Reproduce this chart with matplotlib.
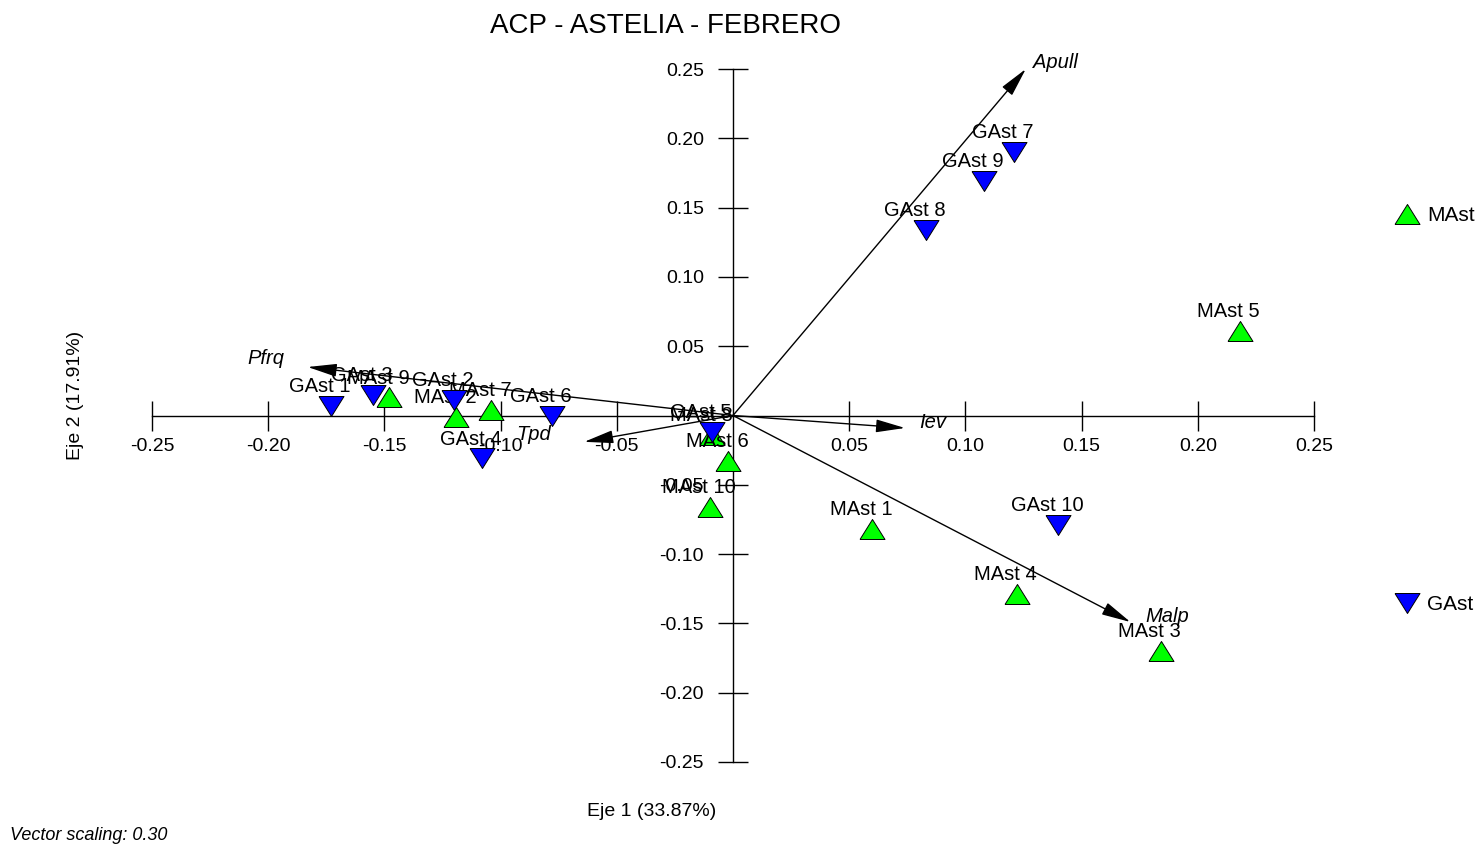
import numpy as np
import matplotlib.pyplot as plt
from matplotlib.lines import Line2D

plt.rcParams['font.family'] = ['Liberation Sans', 'DejaVu Sans']
plt.rcParams['axes.unicode_minus'] = False

# scores de las muestras (eje 1, eje 2)
mast_names = ['MAst 1', 'MAst 2', 'MAst 3', 'MAst 4', 'MAst 5',
              'MAst 6', 'MAst 7', 'MAst 8', 'MAst 9', 'MAst 10']
mast_x = [0.060, -0.119, 0.184, 0.122, 0.218, -0.002, -0.104, -0.009, -0.148, -0.010]
mast_y = [-0.082, -0.001, -0.170, -0.129, 0.061, -0.033, 0.004, -0.014, 0.013, -0.066]

gast_names = ['GAst 1', 'GAst 2', 'GAst 3', 'GAst 4', 'GAst 5',
              'GAst 6', 'GAst 7', 'GAst 8', 'GAst 9', 'GAst 10']
gast_x = [-0.173, -0.120, -0.155, -0.108, -0.009, -0.078, 0.121, 0.083, 0.108, 0.140]
gast_y = [0.007, 0.011, 0.015, -0.031, -0.012, 0.000, 0.190, 0.134, 0.169, -0.079]

# vectores de variables
var_names = ['Apull', 'Pfrq', 'Tpd', 'Iev', 'Malp']
var_x = [0.126, -0.183, -0.064, 0.074, 0.171]
var_y = [0.250, 0.035, -0.019, -0.009, -0.149]

ticks = [-0.25, -0.20, -0.15, -0.10, -0.05, 0.05, 0.10, 0.15, 0.20, 0.25]

# posicion de las etiquetas de vectores (puntos) y alineacion
var_off = {'Apull': ((5, 1), 'left'), 'Pfrq': ((-17, 2), 'right'),
           'Tpd': ((-24, 1), 'right'), 'Iev': ((10, 0), 'left'),
           'Malp': ((11, 0), 'left')}

tri_up = [(-1, -0.8), (1, -0.8), (0, 0.8), (-1, -0.8)]
tri_dn = [(-1, 0.8), (1, 0.8), (0, -0.8), (-1, 0.8)]
green = '#00ff00'
blue = '#0000ff'

W, H = 1484, 856
fig = plt.figure(figsize=(W / 100, H / 100), dpi=100)
ax = fig.add_axes([152 / W, 94 / H, 1162 / W, 693 / H])
ax.set_xlim(-0.25, 0.25)
ax.set_ylim(-0.25, 0.25)

ax.spines['left'].set_position(('data', 0))
ax.spines['bottom'].set_position(('data', 0))
ax.spines['top'].set_visible(False)
ax.spines['right'].set_visible(False)
for s in ['left', 'bottom']:
    ax.spines[s].set_linewidth(1)
ax.set_xticks(ticks)
ax.set_yticks(ticks)
ax.set_xticklabels(['%.2f' % t for t in ticks])
ax.set_yticklabels(['%.2f' % t for t in ticks])
ax.tick_params(direction='inout', length=22, width=1, labelsize=14)
ax.tick_params(axis='x', pad=5)
ax.tick_params(axis='y', pad=10)

# vectores
for name, vx, vy in zip(var_names, var_x, var_y):
    ax.annotate('', xy=(vx, vy), xytext=(0, 0),
                arrowprops=dict(arrowstyle='-|>,head_length=0.9,head_width=0.2',
                                mutation_scale=20, lw=1, color='black',
                                shrinkA=0, shrinkB=0), zorder=2)
    off, ha = var_off[name]
    ax.annotate(name, (vx, vy), xytext=off, textcoords='offset points',
                ha=ha, va='baseline', fontsize=14.5, style='italic', zorder=2)

# muestras
ax.plot(mast_x, mast_y, ls='none', marker=tri_up, ms=18, mfc=green,
        mec='black', mew=0.7, zorder=3, clip_on=False)
for name, px, py in zip(mast_names, mast_x, mast_y):
    ax.annotate(name, (px, py), xytext=(-8, 10), textcoords='offset points',
                ha='center', va='baseline', fontsize=14.5, zorder=3)

ax.plot(gast_x, gast_y, ls='none', marker=tri_dn, ms=18, mfc=blue,
        mec='black', mew=0.7, zorder=4, clip_on=False)
for name, px, py in zip(gast_names, gast_x, gast_y):
    ax.annotate(name, (px, py), xytext=(-8, 10), textcoords='offset points',
                ha='center', va='baseline', fontsize=14.5, zorder=4)

fig.text(666 / W, 1 - 26 / H, 'ACP - ASTELIA - FEBRERO', ha='center', va='center',
         fontsize=20)
fig.text(652 / W, 1 - 812 / H, 'Eje 1 (33.87%)', ha='center', va='center', fontsize=14)
fig.text(75 / W, 1 - 395 / H, 'Eje 2 (17.91%)', ha='center', va='center',
         rotation=90, fontsize=14)
fig.text(10 / W, 1 - 836 / H, 'Vector scaling: 0.30', ha='left', va='center',
         fontsize=13, style='italic')

h_m = Line2D([], [], ls='none', marker=tri_up, ms=18, mfc=green, mec='black', mew=0.7)
h_g = Line2D([], [], ls='none', marker=tri_dn, ms=18, mfc=blue, mec='black', mew=0.7)
fig.legend(handles=[h_m], labels=['MAst'], loc='center left',
           bbox_to_anchor=(1394 / W, 1 - 216 / H), frameon=False, fontsize=15,
           handlelength=1.2, handletextpad=0.4, borderaxespad=0, borderpad=0)
fig.legend(handles=[h_g], labels=['GAst'], loc='center left',
           bbox_to_anchor=(1394 / W, 1 - 605 / H), frameon=False, fontsize=15,
           handlelength=1.2, handletextpad=0.4, borderaxespad=0, borderpad=0)

fig.savefig('out.png', dpi=100)
